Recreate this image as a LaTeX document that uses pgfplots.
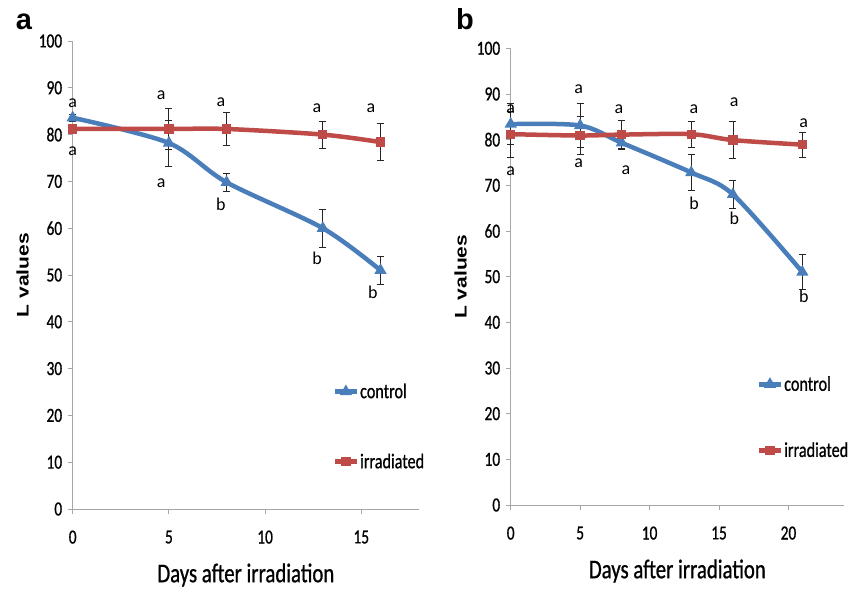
\documentclass[border=0pt]{standalone}
\usepackage{fontspec}
\setmainfont{Carlito}[FakeStretch=0.77, FakeBold=0.8]
\newfontfamily\letfont{Carlito}
\newfontfamily\panelfont{Liberation Sans}
\usepackage{graphicx}
\usepackage{pgfplots}
\usepackage{pgfplotstable}
\pgfplotsset{compat=1.18}

\definecolor{ctrl}{HTML}{4A7EBB}
\definecolor{irr}{HTML}{BE4B48}
\definecolor{axgray}{HTML}{A6A6A6}

% day  mean  err
\pgfplotstableread{
x y e
0 83.6 0.8
5 78.2 4.9
8 69.8 2.0
13 60.0 4.1
16 51.0 3.0
}\ctrlA
\pgfplotstableread{
x y e
0 81.2 0.8
5 81.2 4.4
8 81.2 3.5
13 80.0 2.9
16 78.4 4.0
}\irrA
\pgfplotstableread{
x y e
0 83.4 4.5
5 83.1 4.8
8 79.3 1.5
13 72.8 4.0
16 68.0 3.0
21 51.0 3.9
}\ctrlB
\pgfplotstableread{
x y e
0 81.2 5.0
5 80.9 4.2
8 81.1 3.1
13 81.2 2.8
16 79.9 4.0
21 78.9 2.7
}\irrB

\tikzset{lt/.style={font=\letfont\fontsize{18}{20}\selectfont, inner sep=0pt}}

\pgfplotsset{
  panel/.style={
    scale only axis, clip=false,
    xmin=0, ymin=0, ymax=100,
    axis x line=bottom, axis y line=left,
    axis line style={axgray, line width=0.9pt, -},
    tick style={axgray, line width=0.9pt},
    tick align=outside, major tick length=5pt,
    ytick={0,10,...,100},
    /pgf/number format/assume math mode=true,
    ticklabel style={font=\fontsize{20}{24}\selectfont, black},
    xticklabel style={yshift=-13pt},
    yticklabel style={xshift=-2pt},
    xlabel={Days after irradiation},
    xlabel style={font=\fontsize{27}{30}\selectfont,
      at={([yshift=-66pt]axis description cs:0.5,0)}, anchor=center},
    ylabel={\scalebox{1}[0.8]{\panelfont\bfseries\fontsize{21}{24}\selectfont L values}},
    ylabel style={at={([xshift=-50pt]axis description cs:0,0.5)}, anchor=center},
    legend cell align=left,
    legend style={draw=none, fill=none, inner sep=0pt,
      font=\fontsize{21}{24}\selectfont,
      nodes={inner sep=1pt}},
    legend image code/.code={
      \draw[mark repeat=2,mark phase=2,#1]
        plot coordinates {(0pt,0pt) (11pt,0pt) (22pt,0pt)};},
    error bars/y dir=both, error bars/y explicit,
    error bars/error bar style={black!85, line width=0.8pt},
    error bars/error mark options={rotate=90, black!85, mark size=3.5pt, line width=0.8pt},
  },
  ctrlline/.style={ctrl, line width=4.5pt, smooth, mark=triangle*, mark size=2.6pt, mark options={solid}},
  irrline/.style={irr, line width=4.5pt, smooth, mark=square*, mark size=2.4pt, mark options={solid}},
}

\begin{document}
\begin{tikzpicture}
\useasboundingbox (0,0) rectangle (861pt,592pt);

\node[font=\panelfont\bfseries\fontsize{29}{32}\selectfont, anchor=base] at (24pt,562pt) {a};
\node[font=\panelfont\bfseries\fontsize{29}{32}\selectfont, anchor=base] at (465pt,562pt) {b};

\begin{axis}[panel,
  at={(72.7pt,83pt)}, anchor=south west,
  width=346.3pt, height=468pt,
  xmax=18, xtick={0,5,10,15},
  legend style={at={(axis cs:13.5,17.6)}, anchor=west, row sep=52pt},
]
\addplot+[ctrlline] table[x=x, y=y, y error=e] {\ctrlA};
\addlegendentry{control}
\addplot+[irrline] table[x=x, y=y, y error=e] {\irrA};
\addlegendentry{irradiated}

\node[lt] at (axis cs:0,86.8) {a};
\node[lt] at (axis cs:0,76.4) {a};
\node[lt] at (axis cs:4.6,88.4) {a};
\node[lt] at (axis cs:4.6,69.6) {a};
\node[lt] at (axis cs:7.7,87.0) {a};
\node[lt] at (axis cs:7.7,65.2) {b};
\node[lt] at (axis cs:12.7,85.7) {a};
\node[lt] at (axis cs:12.7,53.6) {b};
\node[lt] at (axis cs:15.5,85.7) {a};
\node[lt] at (axis cs:15.6,46.2) {b};
\end{axis}

\begin{axis}[panel,
  at={(510.7pt,87pt)}, anchor=south west,
  width=333.3pt, height=456.7pt,
  xmax=24, xtick={0,5,10,15,20},
  legend style={at={(axis cs:17.7,19.2)}, anchor=west, row sep=48pt},
]
\addplot+[ctrlline] table[x=x, y=y, y error=e] {\ctrlB};
\addlegendentry{control}
\addplot+[irrline] table[x=x, y=y, y error=e] {\irrB};
\addlegendentry{irradiated}

\node[lt] at (axis cs:0,86.7) {a};
\node[lt] at (axis cs:0,73.1) {a};
\node[lt] at (axis cs:4.9,91.1) {a};
\node[lt] at (axis cs:4.9,74.9) {a};
\node[lt] at (axis cs:7.8,86.7) {a};
\node[lt] at (axis cs:8.3,73.3) {a};
\node[lt] at (axis cs:13.2,86.6) {a};
\node[lt] at (axis cs:13.2,66.0) {b};
\node[lt] at (axis cs:16.1,88.2) {a};
\node[lt] at (axis cs:16.1,62.8) {b};
\node[lt] at (axis cs:21.1,83.6) {a};
\node[lt] at (axis cs:21.1,45.7) {b};
\end{axis}
\end{tikzpicture}
\end{document}
